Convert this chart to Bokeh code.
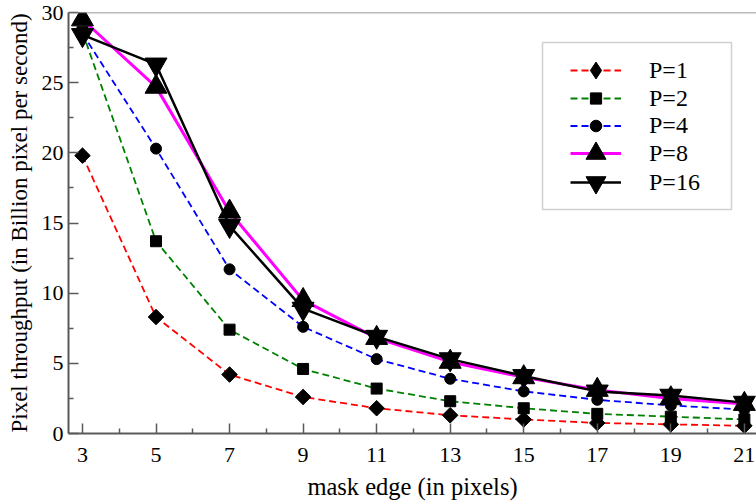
import numpy as np
from bokeh.plotting import figure
from bokeh.models import FixedTicker, Span, Legend, LegendItem, BoxAnnotation
from bokeh.embed import file_html
from bokeh.resources import INLINE

# ---- data ----
mask_edge = [3, 5, 7, 9, 11, 13, 15, 17, 19, 21]
p1 = [19.8, 8.3, 4.2, 2.6, 1.8, 1.3, 1.0, 0.75, 0.65, 0.55]
p2 = [28.6, 13.7, 7.4, 4.6, 3.2, 2.3, 1.8, 1.4, 1.2, 1.0]
p4 = [28.5, 20.3, 11.7, 7.6, 5.3, 3.9, 3.0, 2.4, 2.0, 1.7]
p8 = [29.5, 24.7, 15.8, 9.5, 6.8, 5.1, 4.0, 3.1, 2.5, 2.1]
p16 = [28.4, 26.3, 14.8, 8.9, 6.9, 5.3, 4.1, 3.0, 2.7, 2.2]
labels = ["P=1", "P=2", "P=4", "P=8", "P=16"]

x_ticks = [3, 5, 7, 9, 11, 13, 15, 17, 19, 21]
x_minor = [4, 6, 8, 10, 12, 14, 16, 18, 20]
y_ticks = [0, 5, 10, 15, 20, 25, 30]
y_minor = [2.5, 7.5, 12.5, 17.5, 22.5, 27.5]

FONT = "Liberation Serif"
AXIS_C = "#5a5a5a"

p = figure(width=756, height=504, x_range=(2.62, 21.33), y_range=(0, 30),
           output_backend="svg", toolbar_location=None,
           min_border_left=68, min_border_right=0, min_border_top=12,
           min_border_bottom=71)
p.grid.visible = False
p.outline_line_color = None
p.background_fill_color = "white"
p.border_fill_color = "white"
p.add_layout(Span(location=30, dimension="width", line_color="#777777", line_width=1.5))

# (values, colour, dash, line width, plot marker, plot size, plot angle, legend marker, legend glyph height)
series = [
    (p1, "#ff0000", "7 4", 1.8, "square", 11, np.pi / 4, "diamond", 42),
    (p2, "#008000", "7 4", 1.8, "square", 11, 0.0, "square", 28),
    (p4, "#0000ff", "7 4", 1.8, "circle", 11, 0.0, "circle", 29),
    (p8, "#ff00ff", "solid", 3.0, "triangle", 22, 0.0, "triangle", 50),
    (p16, "#000000", "solid", 2.5, "inverted_triangle", 22, 0.0, "inverted_triangle", 50),
]

line_r = []
for vals, col, dash, lw, mk, sz, ang, lmk, gh in series:
    line_r.append(p.line(mask_edge, vals, line_color=col, line_dash=dash, line_width=lw))
leg_r = []
for vals, col, dash, lw, mk, sz, ang, lmk, gh in series:
    p.scatter(mask_edge, vals, marker=mk, size=sz, angle=ang,
              fill_color="black", line_color="black")
    # renderer used only for the legend swatch (zero size on the plot)
    leg_r.append(p.scatter(mask_edge, vals, marker=lmk, size=0,
                           fill_color="black", line_color="black"))

for ax in (p.xaxis[0], p.yaxis[0]):
    ax.axis_line_color = AXIS_C
    ax.axis_line_width = 2
    ax.major_tick_line_color = AXIS_C
    ax.major_tick_line_width = 1.5
    ax.minor_tick_line_color = AXIS_C
    ax.minor_tick_line_width = 1.5
    ax.major_tick_in = 10
    ax.major_tick_out = 0
    ax.minor_tick_in = 5
    ax.minor_tick_out = 0
    ax.major_label_text_font = FONT
    ax.major_label_text_font_size = "22px"
    ax.major_label_text_color = "black"
    ax.axis_label_text_font = FONT
    ax.axis_label_text_font_style = "normal"
    ax.axis_label_text_color = "black"

p.xaxis[0].axis_label_text_font_size = "24.5px"
p.yaxis[0].axis_label_text_font_size = "23px"
p.xaxis[0].ticker = FixedTicker(ticks=x_ticks, minor_ticks=x_minor)
p.yaxis[0].ticker = FixedTicker(ticks=y_ticks, minor_ticks=y_minor)
p.xaxis[0].axis_label = "mask edge (in pixels)"
p.yaxis[0].axis_label = "Pixel throughput (in Billion pixel per second)"
p.xaxis[0].major_label_standoff = 14
p.xaxis[0].axis_label_standoff = 8
p.yaxis[0].major_label_standoff = 5
p.yaxis[0].axis_label_standoff = 7

# legend frame (screen units relative to the plot frame)
FRAME_BOTTOM = 432
p.add_layout(BoxAnnotation(left=474, right=663, bottom=FRAME_BOTTOM - 208, top=FRAME_BOTTOM - 41,
                           left_units="screen", right_units="screen",
                           bottom_units="screen", top_units="screen",
                           fill_color="white", fill_alpha=1.0,
                           line_color="#666666", line_width=1.5, level="annotation"))

row_centers = [69, 97, 124, 152, 181]
for lab, lr, sr, s, cy in zip(labels, line_r, leg_r, series, row_centers):
    gh = s[8]
    lg = Legend(items=[LegendItem(label=lab, renderers=[lr, sr])])
    lg.location = (502, FRAME_BOTTOM - cy - gh / 2)
    lg.label_text_font = FONT
    lg.label_text_font_size = "24px"
    lg.label_text_color = "black"
    lg.glyph_width = 51
    lg.glyph_height = gh
    lg.label_height = 22
    lg.label_standoff = 28
    lg.padding = 0
    lg.margin = 0
    lg.border_line_color = None
    lg.background_fill_alpha = 0
    p.add_layout(lg)

open("out.html", "w").write(file_html(p, INLINE))
